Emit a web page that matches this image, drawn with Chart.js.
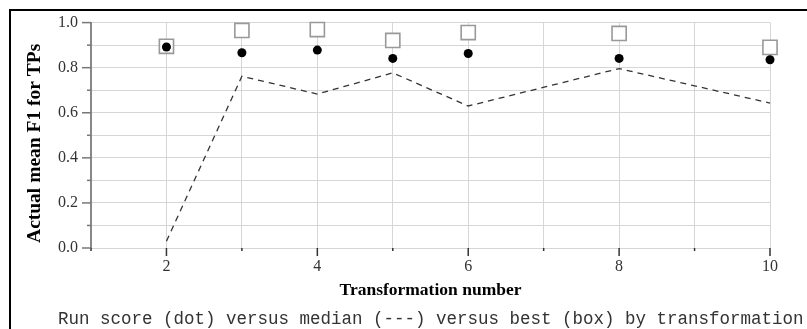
<!DOCTYPE html>
<html><head><meta charset="utf-8">
<script src="https://cdn.jsdelivr.net/npm/chart.js@4/dist/chart.umd.min.js"></script>
<style>html,body{margin:0;padding:0;background:#fff;}#wrap{width:807px;height:329px;position:relative;}</style>
</head><body><div id="wrap"><canvas id="c" width="807" height="329"></canvas></div>
<script>
const transformations = [2, 3, 4, 5, 6, 8, 10];
const runScore    = [0.892, 0.866, 0.878, 0.841, 0.863, 0.841, 0.835];
const medianScore = [0.030, 0.762, 0.683, 0.777, 0.630, 0.796, 0.643];
const bestScore   = [0.895, 0.965, 0.969, 0.921, 0.956, 0.952, 0.890];
const xLabeledTicks = [2, 4, 6, 8, 10];
const yLabeledTicks = ['0.0', '0.2', '0.4', '0.6', '0.8', '1.0'];
const xAxisTitle = 'Transformation number';
const yAxisTitle = 'Actual mean F1 for TPs';
const caption = 'Run score (dot) versus median (---) versus best (box) by transformation';

const pts = arr => transformations.map((x, i) => ({x: x, y: arr[i]}));

const decor = {
  id: 'decor',
  afterDraw(chart) {
    const ctx = chart.ctx, area = chart.chartArea;
    const xs = chart.scales.x, ys = chart.scales.y;
    ctx.save();
    // x tick marks
    ctx.strokeStyle = '#333'; ctx.lineWidth = 1.5;
    xs.ticks.forEach((t, i) => {
      const px = xs.getPixelForTick(i);
      const len = xLabeledTicks.includes(t.value) ? 8 : 3;
      ctx.beginPath(); ctx.moveTo(px, area.bottom); ctx.lineTo(px, area.bottom + len); ctx.stroke();
    });
    // y tick marks
    ctx.strokeStyle = '#777';
    ys.ticks.forEach((t, i) => {
      const py = ys.getPixelForTick(i);
      const len = yLabeledTicks.includes(t.value.toFixed(1)) ? 9 : 4;
      ctx.beginPath(); ctx.moveTo(area.left - len, py); ctx.lineTo(area.left, py); ctx.stroke();
    });
    // frame
    ctx.strokeStyle = '#000'; ctx.lineWidth = 2;
    ctx.beginPath(); ctx.moveTo(10, 329); ctx.lineTo(10, 10); ctx.lineTo(807, 10); ctx.stroke();
    // y title
    ctx.fillStyle = '#000';
    ctx.font = 'bold 19.5px "Liberation Serif"';
    ctx.textAlign = 'center'; ctx.textBaseline = 'middle';
    ctx.translate(35, (area.top + area.bottom) / 2 + 8);
    ctx.rotate(-Math.PI / 2);
    ctx.fillText(yAxisTitle, 0, 0);
    ctx.restore();
    // caption
    ctx.save();
    ctx.fillStyle = '#333';
    ctx.font = '17.5px "Liberation Mono"';
    ctx.textAlign = 'left'; ctx.textBaseline = 'alphabetic';
    ctx.fillText(caption, 58, 324);
    ctx.restore();
  }
};

new Chart(document.getElementById('c'), {
  type: 'scatter',
  data: {
    datasets: [
      { label: 'Run score', data: pts(runScore), pointStyle: 'circle', pointRadius: 4.5,
        backgroundColor: '#000', borderColor: '#000', borderWidth: 0, showLine: false, clip: false },
      { label: 'Best', data: pts(bestScore), pointStyle: 'rect', pointRadius: 10,
        backgroundColor: '#fff', borderColor: '#999', borderWidth: 1.6, showLine: false, clip: false },
      { label: 'Median', data: pts(medianScore), showLine: true, pointRadius: 0,
        borderColor: '#333', borderWidth: 1.3, borderDash: [6, 5], fill: false, tension: 0, clip: false }
    ]
  },
  options: {
    responsive: false, animation: false,
    layout: { padding: { left: 0, top: 21, right: 37, bottom: 0 } },
    plugins: { legend: { display: false }, tooltip: { enabled: false } },
    scales: {
      x: {
        type: 'linear', min: 1, max: 10,
        afterFit(s) { s.height = 81; },
        ticks: { stepSize: 1, autoSkip: false, padding: 9, color: '#333',
          font: { family: '"Liberation Serif"', size: 16 },
          callback: v => xLabeledTicks.includes(v) ? String(v) : '' },
        grid: { color: '#d6d6d6', lineWidth: 1, drawTicks: false },
        border: { display: false },
        title: { display: true, text: xAxisTitle, color: '#000',
          font: { family: '"Liberation Serif"', size: 17.5, weight: 'bold' },
          padding: { top: 0, bottom: 28 } }
      },
      y: {
        min: 0, max: 1,
        afterFit(s) { s.width = 91; },
        ticks: { stepSize: 0.1, padding: 13, color: '#333',
          font: { family: '"Liberation Serif"', size: 16 },
          callback: v => yLabeledTicks.includes(v.toFixed(1)) ? v.toFixed(1) : '' },
        grid: { color: '#d6d6d6', lineWidth: 1, drawTicks: false },
        border: { display: true, color: '#888', width: 2 }
      }
    }
  },
  plugins: [decor]
});
</script></body></html>
